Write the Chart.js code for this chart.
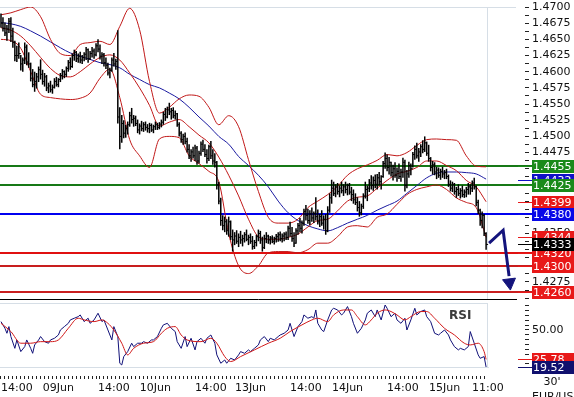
<!DOCTYPE html>
<html>
<head>
<meta charset="utf-8">
<script src="https://cdn.jsdelivr.net/npm/chart.js@4.4.1/dist/chart.umd.min.js"></script>
<style>
  body { margin: 0; background: #fff; }
  #wrap { position: relative; width: 574px; height: 397px; background: #fff; overflow: hidden; }
  #mainBox { position: absolute; left: 0; top: 0; width: 574px; height: 300px; }
  #rsiBox { position: absolute; left: 0; top: 300px; width: 574px; height: 97px; }
</style>
</head>
<body>
<div id="wrap">
  <div id="mainBox"><canvas id="main"></canvas></div>
  <div id="rsiBox"><canvas id="rsi"></canvas></div>
</div>
<script>
// 30' EUR/USD bars, one per half hour
const barHigh = [
  1.4690,1.4684,1.4676,1.4672,1.4683,1.4684,1.4668,1.4648,1.4640,1.4645,
  1.4626,1.4622,1.4645,1.4642,1.4630,1.4614,1.4604,1.4600,1.4598,1.4608,
  1.4619,1.4603,1.4598,1.4595,1.4583,1.4586,1.4580,1.4590,1.4592,1.4590,
  1.4598,1.4604,1.4602,1.4608,1.4618,1.4622,1.4628,1.4634,1.4632,1.4628,
  1.4631,1.4626,1.4630,1.4638,1.4636,1.4632,1.4638,1.4636,1.4644,1.4650,
  1.4642,1.4630,1.4629,1.4622,1.4614,1.4606,1.4622,1.4629,1.4620,1.4664,
  1.4545,1.4533,1.4525,1.4518,1.4523,1.4538,1.4544,1.4533,1.4532,1.4526,
  1.4520,1.4524,1.4522,1.4523,1.4519,1.4521,1.4520,1.4518,1.4523,1.4521,
  1.4522,1.4526,1.4538,1.4544,1.4546,1.4552,1.4544,1.4545,1.4540,1.4536,
  1.4522,1.4508,1.4504,1.4506,1.4498,1.4488,1.4480,1.4484,1.4487,1.4485,
  1.4478,1.4492,1.4495,1.4488,1.4480,1.4487,1.4493,1.4480,1.4474,1.4462,
  1.4430,1.4405,1.4378,1.4376,1.4372,1.4376,1.4370,1.4356,1.4352,1.4355,
  1.4350,1.4354,1.4348,1.4352,1.4356,1.4348,1.4350,1.4346,1.4340,1.4348,
  1.4356,1.4354,1.4345,1.4348,1.4352,1.4348,1.4346,1.4347,1.4345,1.4349,
  1.4352,1.4353,1.4350,1.4352,1.4353,1.4362,1.4368,1.4360,1.4352,1.4358,
  1.4366,1.4374,1.4370,1.4388,1.4394,1.4388,1.4386,1.4390,1.4384,1.4406,
  1.4387,1.4380,1.4386,1.4378,1.4380,1.4392,1.4412,1.4433,1.4430,1.4426,
  1.4428,1.4424,1.4430,1.4426,1.4430,1.4427,1.4428,1.4422,1.4418,1.4412,
  1.4406,1.4400,1.4396,1.4412,1.4430,1.4424,1.4434,1.4440,1.4438,1.4441,
  1.4442,1.4445,1.4440,1.4462,1.4475,1.4472,1.4468,1.4461,1.4456,1.4460,
  1.4452,1.4458,1.4450,1.4467,1.4464,1.4448,1.4461,1.4458,1.4476,1.4486,
  1.4490,1.4482,1.4488,1.4494,1.4500,1.4492,1.4487,1.4468,1.4462,1.4460,
  1.4453,1.4452,1.4450,1.4453,1.4448,1.4450,1.4441,1.4432,1.4430,1.4428,
  1.4422,1.4426,1.4420,1.4424,1.4418,1.4422,1.4428,1.4426,1.4432,1.4436,
  1.4424,1.4402,1.4388,1.4384,1.4380,1.4352
];
const barLow = [
  1.4668,1.4662,1.4655,1.4648,1.4660,1.4646,1.4637,1.4616,1.4615,1.4620,
  1.4602,1.4600,1.4612,1.4610,1.4606,1.4585,1.4576,1.4569,1.4574,1.4584,
  1.4588,1.4580,1.4577,1.4570,1.4567,1.4568,1.4566,1.4574,1.4577,1.4576,
  1.4584,1.4588,1.4590,1.4592,1.4600,1.4603,1.4606,1.4617,1.4615,1.4614,
  1.4613,1.4612,1.4616,1.4618,1.4614,1.4618,1.4622,1.4620,1.4624,1.4630,
  1.4619,1.4612,1.4608,1.4604,1.4594,1.4590,1.4600,1.4608,1.4603,1.4520,
  1.4480,1.4490,1.4497,1.4498,1.4503,1.4515,1.4520,1.4515,1.4516,1.4505,
  1.4503,1.4508,1.4507,1.4509,1.4506,1.4505,1.4507,1.4505,1.4510,1.4510,
  1.4511,1.4514,1.4518,1.4524,1.4528,1.4533,1.4526,1.4528,1.4526,1.4515,
  1.4500,1.4490,1.4487,1.4488,1.4475,1.4465,1.4461,1.4466,1.4462,1.4456,
  1.4458,1.4470,1.4476,1.4468,1.4458,1.4462,1.4465,1.4456,1.4452,1.4418,
  1.4395,1.4362,1.4355,1.4352,1.4348,1.4345,1.4340,1.4322,1.4332,1.4334,
  1.4329,1.4334,1.4330,1.4336,1.4338,1.4332,1.4334,1.4325,1.4326,1.4330,
  1.4338,1.4334,1.4322,1.4326,1.4335,1.4334,1.4333,1.4335,1.4333,1.4336,
  1.4337,1.4338,1.4336,1.4338,1.4340,1.4340,1.4345,1.4337,1.4329,1.4334,
  1.4348,1.4352,1.4350,1.4362,1.4370,1.4365,1.4363,1.4368,1.4366,1.4370,
  1.4364,1.4360,1.4362,1.4356,1.4348,1.4352,1.4382,1.4396,1.4408,1.4406,
  1.4410,1.4406,1.4412,1.4408,1.4412,1.4409,1.4410,1.4400,1.4396,1.4394,
  1.4384,1.4376,1.4378,1.4388,1.4404,1.4400,1.4414,1.4418,1.4416,1.4420,
  1.4418,1.4424,1.4418,1.4436,1.4450,1.4446,1.4441,1.4438,1.4432,1.4436,
  1.4430,1.4434,1.4430,1.4436,1.4415,1.4420,1.4436,1.4440,1.4452,1.4464,
  1.4466,1.4461,1.4468,1.4474,1.4476,1.4470,1.4461,1.4446,1.4441,1.4440,
  1.4434,1.4436,1.4433,1.4436,1.4434,1.4434,1.4422,1.4415,1.4414,1.4410,
  1.4405,1.4408,1.4404,1.4406,1.4405,1.4406,1.4410,1.4410,1.4414,1.4418,
  1.4392,1.4380,1.4362,1.4358,1.4346,1.4325
];
const barClose = [
  1.4675,1.4667,1.4660,1.4666,1.4678,1.4655,1.4645,1.4625,1.4625,1.4628,
  1.4612,1.4618,1.4638,1.4615,1.4612,1.4590,1.4580,1.4585,1.4592,1.4603,
  1.4596,1.4585,1.4592,1.4575,1.4578,1.4572,1.4576,1.4585,1.4580,1.4588,
  1.4594,1.4600,1.4596,1.4605,1.4614,1.4608,1.4625,1.4630,1.4620,1.4624,
  1.4618,1.4622,1.4627,1.4634,1.4620,1.4628,1.4632,1.4626,1.4640,1.4635,
  1.4624,1.4626,1.4614,1.4610,1.4598,1.4602,1.4618,1.4612,1.4616,1.4530,
  1.4500,1.4520,1.4505,1.4512,1.4518,1.4532,1.4526,1.4528,1.4520,1.4510,
  1.4516,1.4512,1.4518,1.4514,1.4512,1.4517,1.4510,1.4515,1.4518,1.4514,
  1.4519,1.4522,1.4534,1.4530,1.4541,1.4538,1.4540,1.4532,1.4535,1.4518,
  1.4505,1.4495,1.4500,1.4492,1.4480,1.4470,1.4476,1.4470,1.4482,1.4462,
  1.4474,1.4488,1.4480,1.4472,1.4466,1.4484,1.4470,1.4462,1.4460,1.4425,
  1.4400,1.4370,1.4362,1.4368,1.4355,1.4368,1.4345,1.4340,1.4346,1.4338,
  1.4344,1.4340,1.4342,1.4348,1.4341,1.4344,1.4338,1.4330,1.4336,1.4345,
  1.4350,1.4340,1.4328,1.4342,1.4346,1.4340,1.4343,1.4338,1.4342,1.4345,
  1.4348,1.4342,1.4346,1.4349,1.4344,1.4358,1.4350,1.4342,1.4335,1.4354,
  1.4362,1.4358,1.4366,1.4384,1.4378,1.4370,1.4380,1.4374,1.4381,1.4376,
  1.4368,1.4376,1.4366,1.4372,1.4354,1.4386,1.4405,1.4420,1.4412,1.4422,
  1.4415,1.4420,1.4416,1.4422,1.4418,1.4424,1.4414,1.4410,1.4402,1.4398,
  1.4390,1.4382,1.4392,1.4408,1.4418,1.4420,1.4428,1.4424,1.4432,1.4426,
  1.4436,1.4430,1.4438,1.4458,1.4466,1.4452,1.4460,1.4444,1.4450,1.4440,
  1.4446,1.4438,1.4445,1.4460,1.4424,1.4442,1.4455,1.4450,1.4472,1.4480,
  1.4470,1.4476,1.4484,1.4480,1.4490,1.4474,1.4466,1.4452,1.4456,1.4445,
  1.4448,1.4440,1.4446,1.4442,1.4444,1.4438,1.4426,1.4420,1.4426,1.4415,
  1.4418,1.4412,1.4416,1.4410,1.4414,1.4418,1.4422,1.4420,1.4428,1.4422,
  1.4398,1.4386,1.4370,1.4378,1.4350,1.4333
];

// indicator lines every 5 bars
const lineBars = [0,5,10,15,20,25,30,35,40,45,50,55,60,65,70,75,80,85,90,95,100,105,110,115,120,
  125,130,135,140,145,150,155,160,165,170,175,180,185,190,195,200,205,210,215,220,225,230,235,240,245];
const bbUpper = [1.4688,1.4691,1.4696,1.4700,1.4685,1.4650,1.4628,1.4625,1.4642,1.4645,1.4647,1.4642,1.4670,1.4698,1.4665,
  1.4585,1.4536,1.4545,1.4558,1.4564,1.4562,1.4545,1.4518,1.4532,1.4515,1.4464,1.4415,1.4375,1.4366,1.4366,
  1.4372,1.4390,1.4400,1.4410,1.4423,1.4440,1.4450,1.4456,1.4463,1.4472,1.4470,1.4475,1.4486,1.4495,1.4496,
  1.4495,1.4494,1.4470,1.4454,1.4453];
const bbMiddle = [1.4668,1.4664,1.4655,1.4640,1.4622,1.4605,1.4594,1.4592,1.4600,1.4612,1.4622,1.4626,1.4618,1.4598,1.4575,
  1.4548,1.4516,1.4522,1.4526,1.4515,1.4502,1.4490,1.4468,1.4440,1.4408,1.4372,1.4345,1.4341,1.4341,1.4344,
  1.4349,1.4360,1.4370,1.4372,1.4385,1.4400,1.4406,1.4408,1.4420,1.4432,1.4442,1.4446,1.4452,1.4462,1.4462,
  1.4455,1.4447,1.4432,1.4422,1.4399];
const bbLower = [1.4650,1.4648,1.4636,1.4600,1.4565,1.4560,1.4558,1.4557,1.4559,1.4567,1.4590,1.4604,1.4560,1.4495,1.4470,
  1.4452,1.4496,1.4500,1.4498,1.4470,1.4458,1.4446,1.4430,1.4350,1.4300,1.4288,1.4300,1.4320,1.4322,1.4322,
  1.4320,1.4325,1.4335,1.4335,1.4345,1.4360,1.4362,1.4360,1.4375,1.4380,1.4395,1.4410,1.4418,1.4422,1.4425,
  1.4418,1.4405,1.4398,1.4390,1.4344];
const maSlow = [1.4676,1.4674,1.4670,1.4663,1.4655,1.4646,1.4637,1.4629,1.4624,1.4619,1.4614,1.4611,1.4606,1.4596,1.4588,
  1.4580,1.4575,1.4567,1.4558,1.4545,1.4530,1.4516,1.4500,1.4488,1.4469,1.4455,1.4440,1.4422,1.4400,1.4382,
  1.4370,1.4362,1.4357,1.4354,1.4359,1.4366,1.4372,1.4378,1.4386,1.4393,1.4400,1.4412,1.4424,1.4436,1.4443,
  1.4445,1.4445,1.4444,1.4442,1.4434];

// expected path
const pathBars = [246.5, 253.6, 256.6];
const pathPrices = [1.4335, 1.4355, 1.4284];
const arrowBar = 256.8;
const arrowPrice = 1.4274;

// support / resistance levels
const levelValues = [1.4455, 1.4425, 1.4380, 1.4320, 1.4300, 1.4260];
const levelColors = ['#167816', '#167816', '#0000f0', '#e01010', '#c81e1e', '#c81e1e'];

// value tags on the price axis, drawn in this order
const tagValues = [1.4432, 1.4455, 1.4425, 1.4399, 1.4380, 1.4344, 1.4320, 1.4300, 1.4260, 1.4333];
const tagColors = ['#1010c8', '#1a8a1a', '#1a8a1a', '#e81818', '#0808e8', '#e81818', '#e81818', '#e81818', '#e81818', '#000000'];

// RSI and its signal line
const rsiBars = [0,2,3,4,5,7,8,10,12,13,15,16,17,19,20,22,24,25,27,29,30,32,34,35,37,39,40,42,44,45,47,49,51,52,54,56,57,59,60,61,
  62,64,66,67,69,71,72,74,76,77,79,81,82,84,86,88,89,91,93,94,96,98,99,101,103,104,106,108,109,111,113,114,116,118,120,121,
  123,125,126,128,130,131,133,135,136,138,140,141,143,145,146,148,150,152,153,155,157,158,159,160,162,163,165,167,168,170,
  172,173,175,177,178,180,182,184,185,187,189,190,192,194,195,197,199,200,202,204,205,207,209,210,212,214,215,217,219,221,
  222,224,226,227,229,231,232,234,236,237,239,241,242,244,245];
const rsiValues = [56.9,51.4,47.3,52.8,44.6,34.9,41.8,32.2,36.3,41.8,34.9,30.8,37.7,41.8,44.6,40.4,39.1,41.8,43.2,45.9,
  50.0,52.8,55.5,58.3,59.7,61.0,62.4,56.9,59.7,55.5,58.3,63.8,56.9,58.3,50.0,41.8,52.8,44.6,22.6,21.2,
  28.1,32.2,39.1,36.3,39.1,39.1,40.4,39.1,41.8,41.8,44.6,51.4,54.2,55.5,51.4,48.7,40.4,34.9,44.6,36.3,
  43.2,33.6,40.4,43.2,39.1,43.2,45.9,39.1,29.5,22.6,25.3,22.6,26.7,25.3,29.5,32.2,30.8,33.6,32.2,34.9,
  37.7,41.8,44.6,40.4,43.2,41.8,44.6,45.9,47.3,50.0,55.5,44.6,52.8,56.9,62.4,59.7,61.0,59.7,66.5,55.5,
  50.0,48.7,58.3,66.5,67.9,66.5,62.4,63.8,69.3,61.0,55.5,47.3,51.4,58.3,63.8,66.5,61.0,66.5,58.3,70.6,
  67.9,61.0,63.8,58.3,55.5,59.7,50.0,58.3,67.9,62.4,65.2,66.5,61.0,56.9,47.3,45.9,47.3,50.0,45.9,41.8,
  36.3,33.6,34.9,33.6,36.3,48.7,39.1,29.5,26.7,28.1,19.52];
const sigBars = [0,5,10,15,20,25,29,34,39,42,47,51,54,57,61,64,67,72,77,81,84,88,91,94,101,106,109,113,116,121,
  128,135,141,146,152,157,160,165,168,173,177,180,184,187,190,194,197,200,204,207,212,215,219,224,229,234,237,241,244,245];
const sigValues = [55.5,48.7,39.1,39.1,40.4,40.4,41.8,51.4,59.7,58.3,56.9,58.3,55.5,50.0,39.1,29.5,34.9,39.1,40.4,47.3,
  51.4,52.8,45.9,41.8,40.4,43.2,39.1,28.1,24.0,28.1,33.6,39.1,43.2,48.7,54.2,58.3,59.7,56.9,62.4,66.5,
  66.5,61.0,54.2,58.3,63.8,66.5,65.2,62.4,58.3,61.0,65.2,65.2,59.7,51.4,45.9,39.1,37.7,39.1,32.2,25.78];
const rsiMin = 19.52;
const rsiMax = 72.24;

// time axis labels (bar positions)
const timeTickBars = [8, 29, 57, 78, 106, 126, 154, 175, 203, 224, 245.9];
const timeTickText = ['14:00', '09Jun', '14:00', '10Jun', '14:00', '13Jun', '14:00', '14Jun', '14:00', '15Jun', '11:00'];

const lastBarEdge = 245.5;
const frameGray = '#d6dee6';
const FONT = '"DejaVu Sans", Verdana, sans-serif';

Chart.defaults.font.family = FONT;
Chart.defaults.font.size = 11;
Chart.defaults.color = '#111';

function series(xs, ys) {
  return xs.map((x, i) => ({ x: x, y: ys[i] }));
}

// horizontal levels under the bars, value tags on top of everything
const levelsPlugin = {
  id: 'levels',
  beforeDatasetsDraw(chart) {
    const { ctx, chartArea } = chart;
    const y = chart.scales.y;
    ctx.save();
    levelValues.forEach((v, k) => {
      const py = Math.round(y.getPixelForValue(v));
      ctx.strokeStyle = levelColors[k];
      ctx.lineWidth = 2;
      ctx.beginPath();
      ctx.moveTo(chartArea.left, py);
      ctx.lineTo(532, py);
      ctx.stroke();
    });
    ctx.restore();
  },
  afterDraw(chart) {
    const y = chart.scales.y;
    drawTags(chart.ctx, tagValues.map(v => y.getPixelForValue(v)), tagValues.map(v => v.toFixed(4)), tagColors);
  }
};

function drawTags(ctx, ys, texts, colors) {
  ctx.save();
  ctx.font = '11px ' + FONT;
  ctx.textBaseline = 'middle';
  ctx.textAlign = 'left';
  ys.forEach((py, k) => {
    const yy = Math.round(py);
    ctx.strokeStyle = colors[k];
    ctx.lineWidth = 1;
    ctx.beginPath();
    ctx.moveTo(518, yy + 0.5);
    ctx.lineTo(532, yy + 0.5);
    ctx.stroke();
    ctx.fillStyle = colors[k];
    ctx.fillRect(532, yy - 6, 42, 13);
    ctx.fillStyle = '#fff';
    ctx.fillText(texts[k], 533, yy + 1);
  });
  ctx.restore();
}

// tiny line height keeps the end labels from padding the plot area
const axisFont = { size: 11, lineHeight: 0.01 };

new Chart(document.getElementById('main'), {
  type: 'line',
  data: {
    datasets: [
      {
        type: 'line', data: series(lineBars, maSlow), borderColor: '#1a1aa0', borderWidth: 1,
        pointRadius: 0, cubicInterpolationMode: 'monotone', order: 5
      },
      {
        type: 'line', data: series(lineBars, bbUpper), borderColor: '#c01818', borderWidth: 1,
        pointRadius: 0, cubicInterpolationMode: 'monotone', order: 4
      },
      {
        type: 'line', data: series(lineBars, bbMiddle), borderColor: '#c01818', borderWidth: 1,
        pointRadius: 0, cubicInterpolationMode: 'monotone', order: 4
      },
      {
        type: 'line', data: series(lineBars, bbLower), borderColor: '#c01818', borderWidth: 1,
        pointRadius: 0, cubicInterpolationMode: 'monotone', order: 4
      },
      {
        type: 'bar', data: barLow.map((l, i) => ({ x: i, y: [l, barHigh[i]] })),
        backgroundColor: '#000', barThickness: 1.5, inflateAmount: 0, order: 2
      },
      {
        type: 'line', showLine: false, data: barClose.map((c, i) => ({ x: i + 0.5, y: c })),
        pointStyle: 'line', pointRadius: 1, borderColor: '#000', borderWidth: 1, order: 2
      },
      {
        type: 'line', data: series(pathBars, pathPrices), borderColor: '#14147c', borderWidth: 3,
        pointRadius: 0, clip: false, order: 1
      },
      {
        type: 'line', data: [{ x: arrowBar, y: arrowPrice }], showLine: false, pointStyle: 'triangle',
        pointRadius: 7.5, rotation: 173, backgroundColor: '#14147c', borderColor: '#14147c', borderWidth: 1,
        clip: false, order: 1
      }
    ]
  },
  options: {
    responsive: true,
    maintainAspectRatio: false,
    animation: false,
    devicePixelRatio: 1,
    events: [],
    layout: { autoPadding: false, padding: { top: 7, left: 0, right: 0, bottom: 0 } },
    plugins: { legend: { display: false }, tooltip: { enabled: false } },
    scales: {
      x: {
        type: 'linear', min: -0.5, max: 260.1, offset: false,
        ticks: { display: false },
        grid: {
          drawTicks: false, offset: false,
          color: ctx => (ctx.tick && ctx.tick.value === lastBarEdge) ? frameGray : 'rgba(0,0,0,0)'
        },
        border: { display: true, color: '#000', width: 1 },
        afterBuildTicks: s => { s.ticks = [{ value: lastBarEdge }]; },
        afterFit: s => { s.height = 1; s.paddingLeft = 0; s.paddingRight = 0; }
      },
      y: {
        position: 'right', min: 1.42487, max: 1.4700,
        border: { display: false },
        grid: {
          color: ctx => (ctx.tick && ctx.tick.value > 1.46999) ? frameGray : 'rgba(0,0,0,0)',
          tickColor: '#222', tickLength: 13, tickBorderDash: [0, 9, 4, 40]
        },
        ticks: {
          padding: 3, color: '#111', autoSkip: false, font: axisFont,
          callback: v => {
            const pips = Math.round(v * 10000);
            return (pips % 25 === 0 && pips >= 14275) ? (pips / 10000).toFixed(4) : '';
          }
        },
        afterBuildTicks: s => {
          const t = [];
          for (let k = 0; k <= 36; k++) t.push({ value: 1.425 + k * 0.00125 });
          s.ticks = t;
        },
        afterFit: s => { s.width = 58; s.paddingTop = 0; s.paddingBottom = 0; }
      }
    }
  },
  plugins: [levelsPlugin]
});

const rsiPlugin = {
  id: 'rsiText',
  afterDraw(chart) {
    const ctx = chart.ctx;
    const y = chart.scales.y;
    const lastSig = sigValues[sigValues.length - 1];
    const lastRsi = rsiValues[rsiValues.length - 1];
    drawTags(ctx, [y.getPixelForValue(lastSig), y.getPixelForValue(lastRsi)],
      [lastSig.toFixed(2), lastRsi.toFixed(2)], ['#e81818', '#10106e']);
    ctx.save();
    ctx.fillStyle = '#3c3c3c';
    ctx.font = 'bold 12px ' + FONT;
    ctx.textBaseline = 'middle';
    ctx.fillText('RSI', 449, 16);
    ctx.fillStyle = '#111';
    ctx.font = '11px ' + FONT;
    ctx.textAlign = 'center';
    ctx.fillText("30'", 552, 82);
    ctx.textAlign = 'left';
    ctx.fillText('EUR/USD', 532, 97);
    ctx.restore();
  }
};

new Chart(document.getElementById('rsi'), {
  type: 'line',
  data: {
    datasets: [
      {
        data: series(sigBars, sigValues), borderColor: '#d01818', borderWidth: 1, pointRadius: 0,
        cubicInterpolationMode: 'monotone'
      },
      {
        data: series(rsiBars, rsiValues), borderColor: '#101078', borderWidth: 1, pointRadius: 0, tension: 0
      }
    ]
  },
  options: {
    responsive: true,
    maintainAspectRatio: false,
    animation: false,
    devicePixelRatio: 1,
    events: [],
    layout: { autoPadding: false, padding: { top: 3, left: 0, right: 0, bottom: 0 } },
    plugins: { legend: { display: false }, tooltip: { enabled: false } },
    scales: {
      x: {
        type: 'linear', min: -0.5, max: 245.96,
        border: { display: true, color: frameGray, width: 1 },
        grid: {
          color: ctx => (ctx.tick && ctx.tick.value === lastBarEdge) ? frameGray : 'rgba(0,0,0,0)',
          tickColor: ctx => (ctx.tick && ctx.tick.value % 2 === 0) ? '#222' : 'rgba(0,0,0,0)',
          tickLength: 12, tickBorderDash: [0, 8, 4, 40]
        },
        ticks: {
          autoSkip: false, maxRotation: 0, minRotation: 0, padding: 3, color: '#111',
          callback: v => {
            const k = timeTickBars.indexOf(v);
            return k >= 0 ? timeTickText[k] : '';
          }
        },
        afterBuildTicks: s => {
          const vals = [];
          for (let b = 0; b <= 244; b += 2) vals.push(b);
          timeTickBars.forEach(b => { if (vals.indexOf(b) < 0) vals.push(b); });
          vals.push(lastBarEdge);
          vals.sort((a, b) => a - b);
          s.ticks = vals.map(v => ({ value: v }));
        },
        afterFit: s => { s.height = 30; s.paddingLeft = 0; s.paddingRight = 0; }
      },
      y: {
        position: 'right', min: rsiMin, max: rsiMax,
        border: { display: false },
        grid: {
          color: ctx => (ctx.tick && ctx.tick.value === rsiMax) ? frameGray : 'rgba(0,0,0,0)',
          tickColor: ctx => (ctx.tick && ctx.tick.value === rsiMax) ? 'rgba(0,0,0,0)' : '#222',
          tickLength: 41, tickBorderDash: [0, 37, 4, 40]
        },
        ticks: {
          padding: 3, color: '#111', autoSkip: false, font: axisFont,
          callback: v => (v === 50 ? '50.00' : '')
        },
        afterBuildTicks: s => {
          const t = [];
          for (let v = 22; v <= 70; v += 4) t.push({ value: v });
          t.push({ value: rsiMax });
          s.ticks = t;
        },
        afterFit: s => { s.width = 86; s.paddingTop = 0; s.paddingBottom = 0; }
      }
    }
  },
  plugins: [rsiPlugin]
});
</script>
</body>
</html>
